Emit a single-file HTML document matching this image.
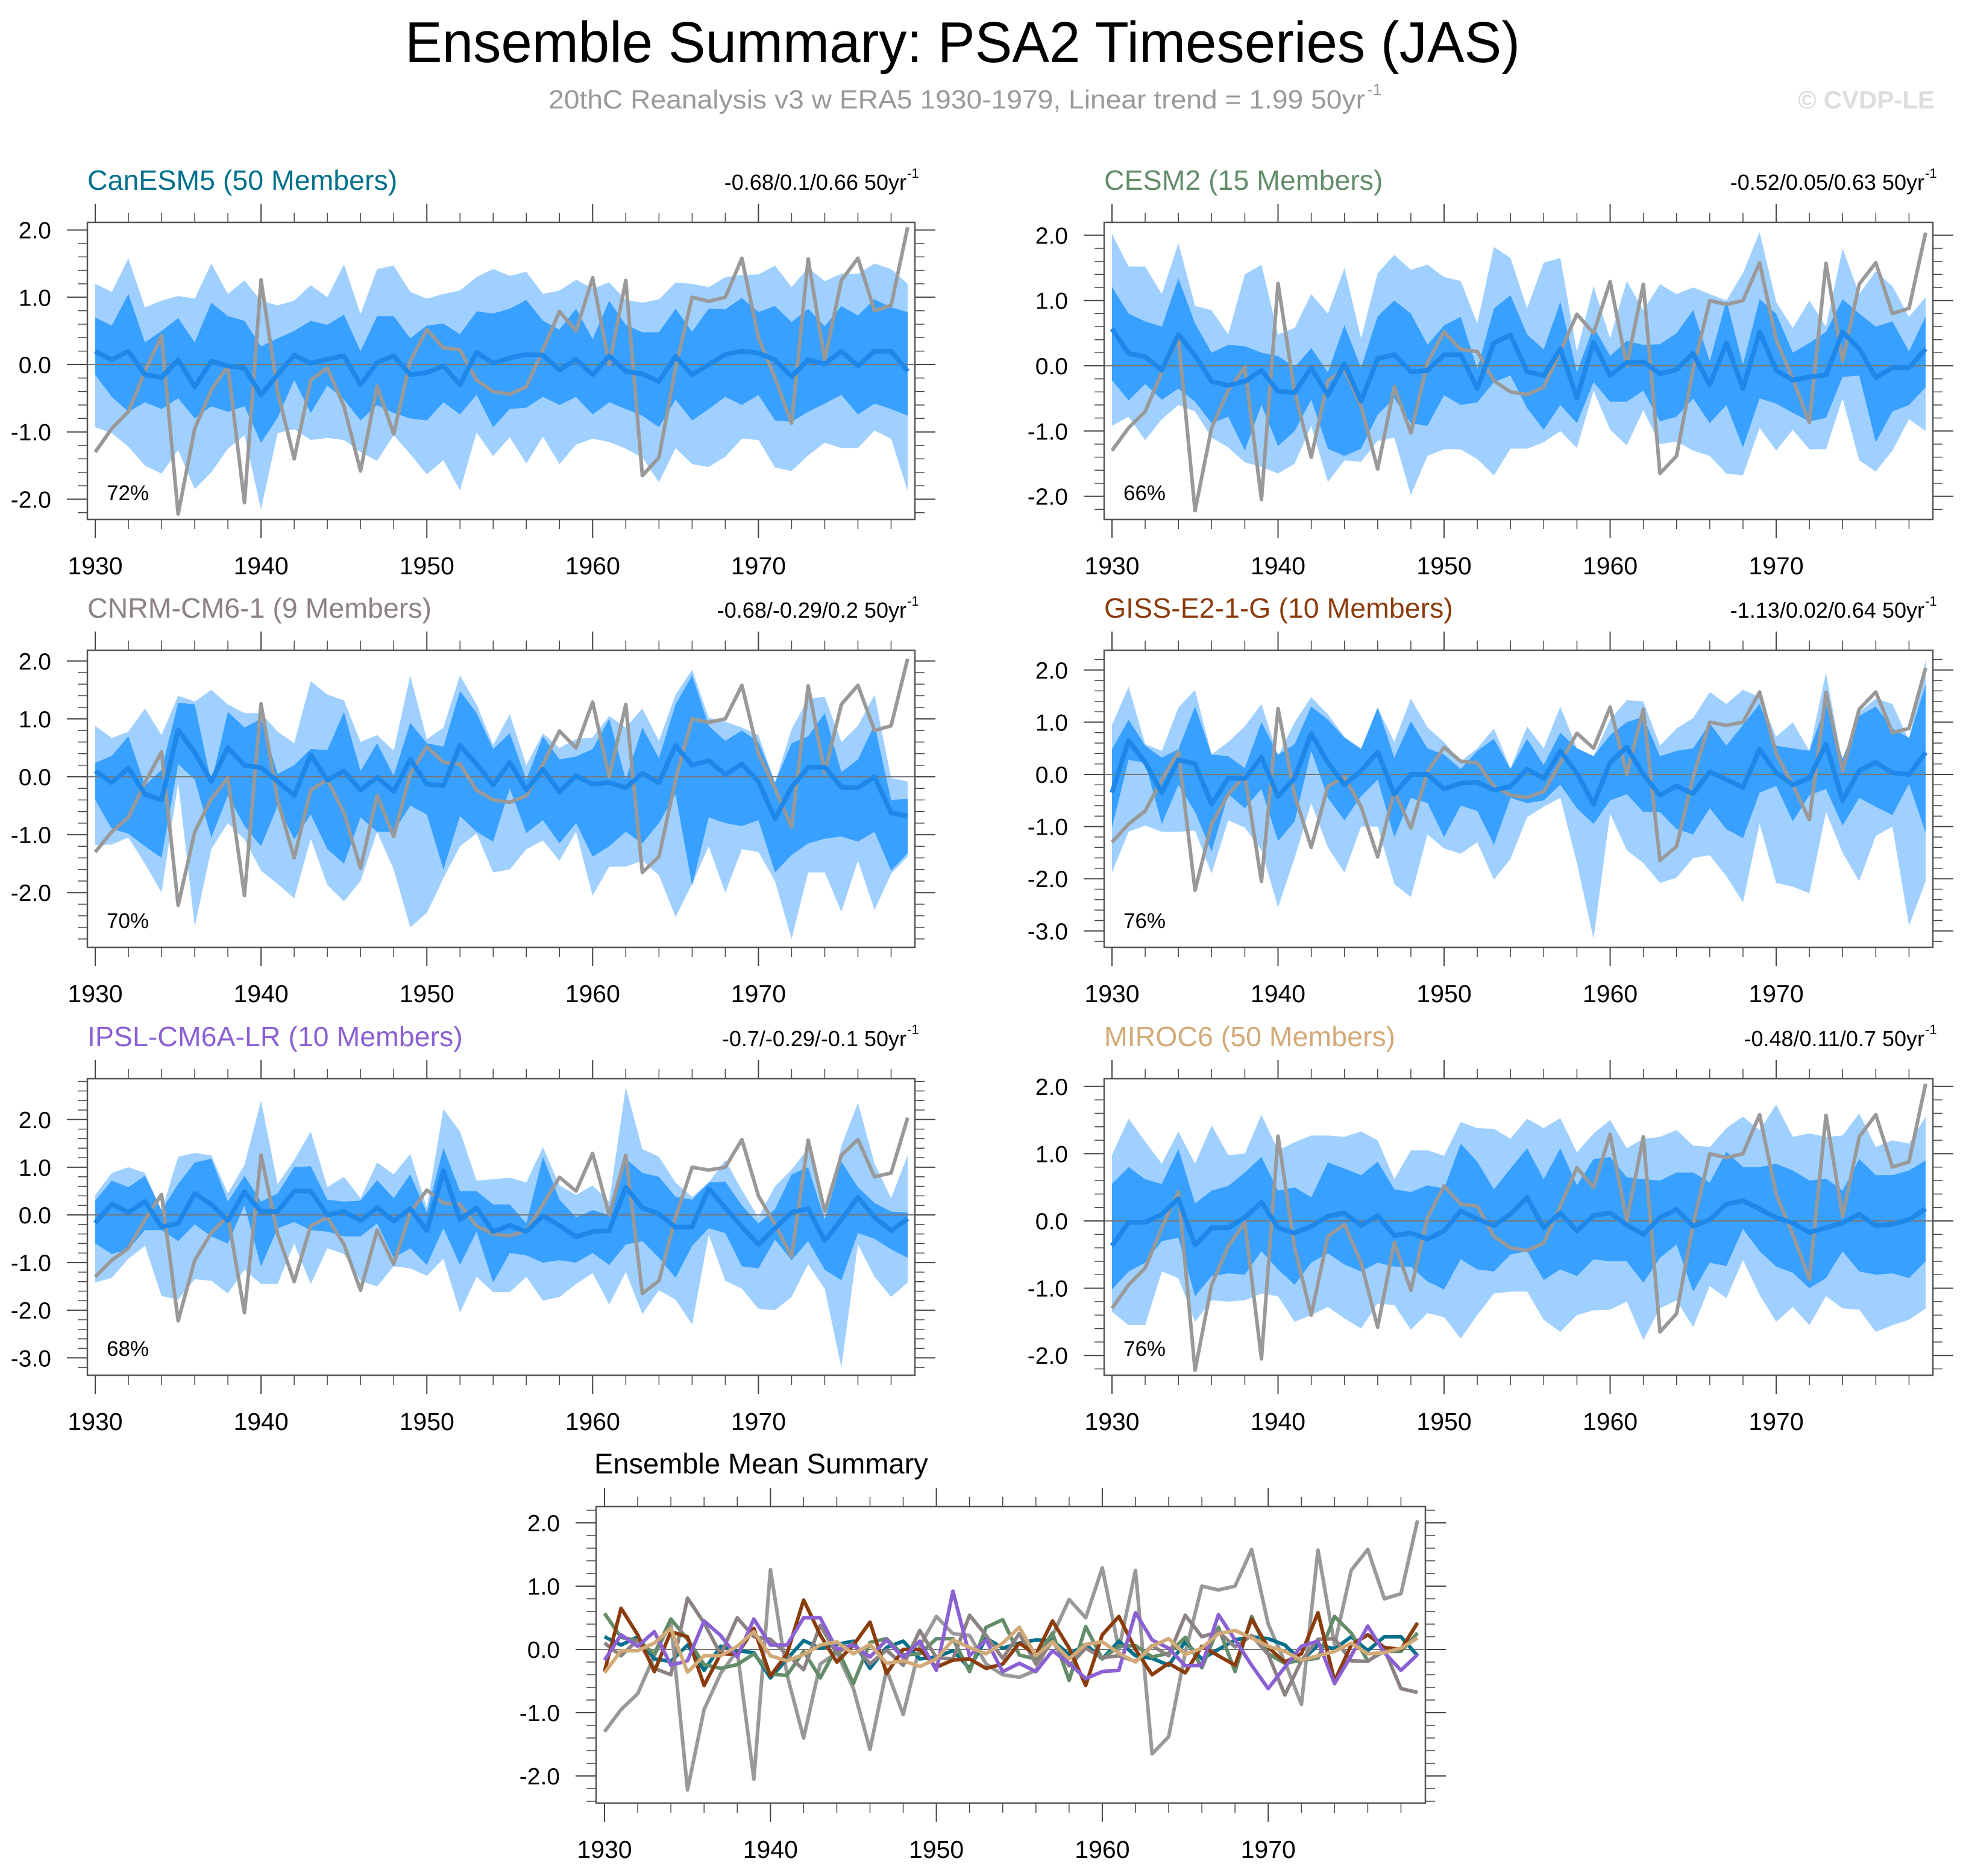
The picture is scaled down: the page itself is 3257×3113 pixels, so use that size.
<!DOCTYPE html>
<html><head><meta charset="utf-8"><style>
html,body{margin:0;padding:0;background:#fff;}
svg{display:block;font-family:"Liberation Sans",sans-serif;}
</style></head><body>
<svg id="fig" xmlns="http://www.w3.org/2000/svg" width="3257" height="3113" viewBox="0 0 3257 3113">
<rect width="3257" height="3113" fill="#fff"/>
<text x="672" y="103" font-size="96" textLength="1850" lengthAdjust="spacingAndGlyphs" fill="#000">Ensemble Summary: PSA2 Timeseries (JAS)</text>
<text x="910" y="180" font-size="44" fill="#999" textLength="1355" lengthAdjust="spacingAndGlyphs">20thC Reanalysis v3 w ERA5 1930-1979, Linear trend = 1.99 50yr</text>
<text x="2268" y="158" font-size="28" fill="#999">-1</text>
<text x="3210" y="180" font-size="42" font-weight="bold" fill="#ddd" text-anchor="end">© CVDP-LE</text>
<g id="plots"></g>
</svg>
<script>
const years = [];
for (let y = 1930; y <= 1979; y++) years.push(y);
const xTickLabels = ["1930","1940","1950","1960","1970"];
const obs = [-1.3,-0.95,-0.7,-0.1,0.43,-2.22,-0.95,-0.38,-0.02,-2.05,1.26,-0.4,-1.4,-0.23,-0.05,-0.62,-1.58,-0.32,-1.03,0.05,0.52,0.25,0.22,-0.23,-0.4,-0.44,-0.33,0.22,0.79,0.5,1.29,0.0,1.25,-1.65,-1.38,-0.05,1.0,0.94,1.0,1.58,0.4,-0.2,-0.87,1.57,0.07,1.25,1.58,0.8,0.88,2.04];

const canMean = [0.2,0.07,0.2,-0.15,-0.19,0.07,-0.33,0.05,-0.02,-0.05,-0.45,-0.15,0.14,0.02,0.08,0.13,-0.3,0.03,0.13,-0.15,-0.12,-0.02,-0.3,0.18,0.02,0.1,0.15,0.14,-0.08,0.08,-0.15,0.13,-0.1,-0.14,-0.25,0.12,-0.15,0.0,0.15,0.2,0.17,0.07,-0.18,0.07,0.01,0.2,-0.02,0.2,0.2,-0.1];
const canDarkHi = [0.7,0.58,1.05,0.33,0.5,0.69,0.33,0.92,0.72,0.65,0.27,0.39,0.5,0.65,0.59,0.74,0.2,0.72,0.72,0.39,0.58,0.61,0.45,0.79,0.76,0.83,0.96,0.65,0.52,0.83,0.38,0.95,0.59,0.48,0.48,0.83,0.49,0.83,0.82,0.99,0.78,0.87,0.63,0.83,0.57,0.87,0.73,0.97,0.85,0.78];
const canDarkLo = [-0.15,-0.48,-0.7,-0.56,-0.66,-0.5,-0.8,-0.62,-0.7,-0.62,-1.16,-0.79,-0.23,-0.72,-0.31,-0.52,-0.83,-0.6,-0.72,-0.8,-0.83,-0.56,-0.74,-0.45,-0.93,-0.66,-0.64,-0.48,-0.6,-0.48,-0.74,-0.56,-0.66,-0.76,-0.93,-0.52,-0.83,-0.66,-0.48,-0.6,-0.45,-0.83,-0.85,-0.7,-0.58,-0.45,-0.74,-0.58,-0.66,-0.76];
const canLightHi = [1.2,1.08,1.58,0.85,0.95,1.02,0.98,1.5,1.05,1.25,0.95,0.88,0.95,1.18,1.0,1.49,0.75,1.42,1.47,1.08,0.98,1.05,1.1,1.3,1.42,1.32,1.38,1.05,1.1,1.26,1.13,1.22,0.96,0.92,0.97,1.22,1.2,1.15,1.3,1.33,1.34,1.47,1.15,1.44,1.24,1.35,1.35,1.5,1.42,1.2];
const canLightLo = [-0.93,-1.02,-1.22,-1.5,-1.62,-1.27,-1.85,-1.6,-1.25,-1.05,-2.15,-1.02,-0.96,-1.12,-1.09,-1.12,-1.3,-1.43,-1.05,-1.33,-1.63,-1.42,-1.87,-1.01,-1.36,-1.08,-1.47,-1.07,-1.48,-1.19,-1.1,-1.15,-1.25,-1.38,-1.75,-1.24,-1.48,-1.52,-1.37,-1.1,-1.12,-1.53,-1.58,-1.35,-1.16,-1.24,-1.24,-0.98,-1.1,-1.88];

const cesmMean = [0.57,0.19,0.14,-0.07,0.48,0.16,-0.24,-0.3,-0.24,-0.07,-0.39,-0.41,-0.03,-0.45,0.03,-0.54,0.11,0.17,-0.09,-0.07,0.17,0.17,-0.35,0.35,0.47,-0.09,-0.15,0.26,-0.49,0.36,-0.15,0.05,0.06,-0.12,-0.06,0.19,-0.29,0.35,-0.35,0.52,-0.07,-0.22,-0.17,-0.14,0.52,0.26,-0.18,-0.03,-0.03,0.26];
const cesmDarkHi = [1.21,0.8,0.68,0.6,1.34,0.65,0.2,0.32,0.3,0.2,0.15,-0.02,0.27,-0.1,0.62,-0.03,0.76,1.0,0.8,0.32,0.62,0.75,-0.05,0.88,1.08,0.48,0.25,0.98,-0.1,0.6,0.15,0.38,0.32,0.33,0.5,0.85,0.07,1.0,0.02,1.02,0.8,0.2,0.35,0.52,1.02,0.8,0.6,0.68,0.22,0.76];
const cesmDarkLo = [-0.22,-0.53,-0.28,-0.52,-0.35,-0.55,-0.88,-0.78,-1.3,-0.6,-1.23,-1.0,-0.52,-1.27,-1.38,-1.27,-0.75,-0.5,-0.88,-0.92,-0.45,-0.6,-0.56,-0.25,-0.15,-0.65,-0.98,-0.6,-0.88,-0.25,-0.55,-0.55,-0.38,-0.85,-0.78,-0.5,-0.88,-0.6,-1.25,-0.5,-0.58,-0.72,-0.85,-0.8,-0.17,-0.15,-1.17,-0.7,-0.6,-0.33];
const cesmLightHi = [2.02,1.52,1.52,1.1,1.88,0.92,0.85,0.48,1.4,1.55,0.48,0.58,1.1,0.8,1.5,0.42,1.42,1.7,1.47,1.55,1.36,1.3,0.65,1.82,1.65,0.88,1.58,1.65,0.22,1.22,0.42,1.3,0.85,1.25,1.1,1.2,1.1,1.0,1.42,2.05,0.98,0.58,1.0,0.6,1.8,1.1,1.45,1.22,0.75,1.05];
const cesmLightLo = [-0.92,-0.78,-1.14,-0.82,-0.6,-0.7,-1.1,-1.25,-1.48,-1.55,-1.65,-1.5,-0.92,-1.78,-1.45,-1.47,-1.15,-1.1,-1.98,-1.38,-1.28,-1.28,-1.43,-1.68,-1.27,-1.27,-1.17,-1.0,-1.26,-0.38,-0.98,-1.22,-0.68,-1.2,-1.16,-1.3,-1.38,-1.65,-1.68,-0.95,-1.3,-0.98,-1.28,-1.28,-0.5,-1.45,-1.62,-1.3,-0.82,-1.0];

const cnrmMean = [0.1,-0.1,0.15,-0.3,-0.4,0.81,0.42,-0.08,0.5,0.2,0.16,-0.08,-0.32,0.38,-0.06,0.1,-0.23,-0.01,-0.25,0.3,-0.13,-0.15,0.54,0.22,-0.14,0.25,-0.23,0.13,-0.26,0.02,-0.13,-0.1,-0.19,0.06,-0.1,0.54,0.2,0.28,0.04,0.22,-0.08,-0.72,-0.18,0.16,0.17,-0.18,-0.19,0.0,-0.62,-0.68];
const cnrmDarkHi = [0.24,0.36,0.7,-0.15,0.12,1.28,1.25,-0.1,1.12,0.85,1.0,0.05,0.2,0.48,0.46,1.12,0.1,0.58,0.02,0.93,0.58,0.52,1.48,1.1,0.48,0.75,-0.05,0.7,0.3,0.35,0.48,1.0,-0.05,0.85,0.32,1.25,1.75,0.88,0.62,0.8,0.6,-0.1,0.58,0.7,1.1,0.08,0.3,0.9,-0.4,-0.38];
const cnrmDarkLo = [-0.4,-0.9,-0.98,-1.2,-1.4,0.22,-0.05,-1.05,-0.32,-0.85,-1.2,-0.5,-1.08,-0.65,-1.25,-1.5,-0.7,-0.95,-0.95,-0.5,-0.65,-1.6,-0.68,-0.95,-1.12,-0.2,-0.97,-0.75,-1.15,-0.8,-1.38,-1.2,-0.95,-1.15,-0.8,-0.3,-1.88,-0.7,-0.8,-0.85,-0.75,-1.65,-1.35,-1.15,-1.07,-1.03,-1.12,-0.95,-1.62,-1.32];
const cnrmLightHi = [0.88,0.67,0.78,1.18,0.72,1.4,1.3,1.5,1.25,1.1,1.1,0.78,0.58,1.65,1.42,1.32,0.6,0.72,0.45,1.75,0.65,0.85,1.75,1.25,0.55,1.08,0.2,0.75,0.5,0.65,0.68,1.05,0.85,1.18,0.62,1.42,1.85,1.02,0.95,0.85,0.72,-0.1,0.82,1.35,1.38,0.6,0.88,1.42,-0.02,-0.08];
const cnrmLightLo = [-1.18,-1.17,-1.05,-1.5,-2.0,-0.1,-2.58,-1.25,-0.8,-1.08,-1.62,-1.85,-2.1,-1.07,-1.87,-2.15,-1.8,-0.95,-1.6,-2.6,-2.35,-1.75,-1.2,-0.98,-1.65,-1.6,-1.25,-1.1,-1.45,-0.95,-2.05,-1.55,-1.55,-1.45,-1.7,-2.42,-1.85,-1.2,-2.0,-1.25,-1.3,-1.8,-2.8,-1.65,-1.65,-2.33,-1.45,-2.3,-1.68,-1.38];

const gissMean = [-0.35,0.65,0.23,-0.35,0.28,0.2,-0.57,-0.07,-0.08,0.33,-0.42,-0.07,0.78,0.23,-0.2,0.07,0.43,-0.38,0.0,0.0,-0.28,-0.17,-0.15,-0.3,-0.23,0.1,-0.08,0.45,0.02,-0.57,0.23,0.52,0.0,-0.4,-0.22,-0.37,0.05,-0.1,-0.25,0.48,0.03,-0.2,-0.07,0.58,-0.5,0.07,0.23,0.03,0.0,0.42];
const gissDarkHi = [0.48,1.05,0.55,0.32,0.48,1.3,0.38,0.35,0.12,1.0,0.38,0.58,1.3,1.05,0.7,0.48,1.28,0.32,1.02,0.5,0.38,0.1,0.45,0.68,0.1,0.68,0.18,0.8,0.5,0.35,0.75,1.0,1.1,0.35,0.45,0.5,0.98,0.55,0.95,1.35,0.55,0.5,0.45,1.35,0.3,1.12,1.3,0.88,0.7,1.72];
const gissDarkLo = [-1.02,0.28,0.22,-0.95,-0.2,-0.72,-1.48,-0.38,-0.65,-0.28,-1.28,-0.9,0.45,-0.45,-0.88,-0.42,-0.1,-1.2,-0.45,-0.55,-1.2,-0.6,-0.7,-1.35,-0.45,-0.55,-0.5,-0.2,-0.65,-0.95,-0.5,-0.38,-0.72,-0.72,-1.05,-1.15,-0.65,-1.05,-1.22,-0.35,-0.22,-0.9,-0.4,-0.28,-0.98,-0.45,-0.62,-0.78,-0.18,-1.12];
const gissLightHi = [0.95,1.68,0.58,0.45,1.28,1.62,0.38,0.62,0.92,1.35,0.35,1.0,1.48,1.15,0.72,0.5,1.28,0.62,1.45,0.9,0.62,0.25,0.5,0.88,0.12,0.92,0.5,1.3,0.5,0.35,1.05,1.42,1.4,0.55,0.88,1.08,1.58,1.35,1.62,1.48,0.72,1.0,0.45,1.95,0.2,1.2,1.45,1.35,0.65,2.2];
const gissLightLo = [-1.88,-1.1,-0.98,-1.1,-1.1,-1.08,-1.9,-0.88,-1.02,-1.45,-2.55,-1.6,-0.55,-1.4,-1.88,-1.0,-1.0,-2.1,-2.35,-1.15,-1.42,-1.52,-1.3,-2.02,-1.62,-0.82,-0.62,-0.45,-1.7,-3.15,-0.75,-1.45,-1.7,-2.08,-1.98,-1.6,-1.55,-1.95,-2.45,-0.95,-2.08,-2.15,-2.28,-0.72,-1.5,-2.05,-1.18,-1.0,-2.9,-2.05];

const ipslMean = [-0.17,0.23,0.05,0.28,-0.25,-0.18,0.45,0.22,-0.12,0.48,0.07,0.07,0.5,0.5,0.0,0.07,-0.12,0.15,-0.13,0.13,-0.33,0.92,-0.1,0.15,-0.35,-0.22,-0.35,-0.02,-0.22,-0.46,-0.35,-0.33,0.58,0.15,0.02,-0.26,-0.25,0.55,0.15,-0.25,-0.62,-0.28,0.05,0.13,-0.54,-0.1,0.37,-0.05,-0.33,-0.08];
const ipslDarkHi = [0.3,0.72,0.58,0.82,0.1,0.65,1.1,1.18,0.28,0.82,0.28,0.45,1.0,1.02,0.32,0.28,0.3,0.73,0.35,0.85,0.05,1.4,0.5,0.5,0.22,0.22,-0.18,1.22,0.32,-0.05,0.1,0.0,1.18,0.88,0.8,0.38,0.32,0.68,0.7,0.2,-0.18,0.12,0.85,1.0,-0.1,1.12,0.58,0.25,0.07,0.05];
const ipslDarkLo = [-0.6,-0.82,-0.72,-0.32,-0.32,-0.55,-0.2,-0.45,-0.6,0.2,-1.08,-0.28,-0.15,-0.32,-0.35,-0.45,-0.45,-0.18,-0.9,-0.7,-1.05,-0.28,-1.05,-0.35,-1.42,-0.8,-0.85,-1.0,-0.95,-1.0,-0.8,-1.05,-0.62,-0.55,-0.9,-1.32,-0.65,-0.28,-0.38,-1.08,-1.12,-0.52,-0.95,-0.55,-1.15,-1.37,-0.38,-0.5,-0.72,-0.9];
const ipslLightHi = [0.42,0.88,1.0,0.88,0.08,1.22,1.3,1.25,0.45,1.05,2.4,0.65,1.15,1.75,0.58,0.8,0.35,1.1,0.85,1.28,0.15,2.22,1.75,0.72,0.75,0.78,0.68,1.42,0.62,0.42,0.62,0.28,2.68,1.38,1.22,0.68,0.38,0.68,1.15,0.52,-0.05,0.6,0.95,1.4,-0.05,1.45,2.35,1.08,0.35,1.25];
const ipslLightLo = [-1.42,-1.32,-0.92,-0.65,-1.7,-1.78,-1.35,-1.38,-1.65,-1.15,-1.45,-1.45,-0.6,-1.45,-0.7,-0.82,-1.38,-1.5,-1.08,-1.12,-1.28,-0.92,-2.05,-1.3,-1.62,-1.62,-1.3,-1.8,-1.72,-1.45,-1.22,-1.88,-1.2,-2.08,-1.58,-1.78,-2.3,-0.42,-1.38,-1.55,-1.97,-2.0,-1.72,-1.03,-1.55,-3.2,-0.62,-1.3,-1.72,-1.42];

const mirocMean = [-0.37,-0.02,-0.02,0.1,0.33,-0.36,-0.1,-0.1,0.05,0.28,-0.1,-0.18,-0.08,0.07,0.12,-0.07,0.08,-0.22,-0.18,-0.27,-0.15,0.15,0.03,-0.07,0.1,0.35,-0.1,0.12,-0.15,0.08,0.12,-0.06,-0.2,0.05,0.17,-0.08,0.02,0.25,0.3,0.18,0.05,-0.03,-0.17,-0.1,-0.03,0.1,-0.07,-0.05,0.02,0.18];
const mirocDarkHi = [0.55,0.8,0.62,0.55,1.07,0.26,0.45,0.52,0.72,0.95,0.45,0.5,0.35,0.87,0.78,0.68,0.88,0.47,0.43,0.53,0.48,1.15,0.88,0.47,0.78,1.08,0.62,1.08,0.53,0.92,0.95,0.65,0.62,0.6,0.72,0.72,0.57,1.03,0.8,0.8,0.85,0.75,0.6,0.63,0.45,0.92,0.68,0.68,0.75,0.9];
const mirocDarkLo = [-1.02,-0.75,-0.62,-0.3,-0.25,-1.12,-0.82,-0.78,-0.8,-0.45,-0.72,-0.95,-0.62,-0.48,-0.65,-0.75,-0.62,-0.68,-0.68,-0.9,-1.02,-0.57,-0.72,-0.75,-0.5,-0.45,-0.88,-0.72,-0.82,-0.57,-0.6,-0.6,-0.92,-0.55,-0.35,-1.05,-0.62,-0.67,-0.12,-0.45,-0.68,-0.77,-1.0,-0.85,-0.45,-0.75,-0.8,-0.78,-0.85,-0.6];
const mirocLightHi = [0.98,1.52,1.18,0.85,1.33,0.85,1.42,0.98,1.0,1.58,1.05,1.17,1.27,1.27,1.25,1.33,1.2,0.62,1.05,1.05,0.97,1.47,1.38,1.37,1.22,1.52,1.38,1.53,1.02,1.3,1.5,1.08,1.22,1.25,1.35,1.12,1.1,1.38,1.55,1.35,1.73,1.25,1.3,1.25,1.27,1.6,1.1,1.2,1.15,1.55];
const mirocLightLo = [-1.35,-1.55,-1.55,-0.75,-0.85,-1.5,-1.18,-1.2,-1.18,-1.08,-1.12,-1.5,-1.4,-1.28,-1.45,-1.6,-1.23,-1.25,-1.62,-1.37,-1.43,-1.75,-1.4,-1.08,-1.05,-1.05,-1.47,-1.65,-1.4,-1.33,-1.32,-1.2,-1.77,-1.3,-1.18,-1.58,-0.97,-1.15,-0.58,-1.1,-1.5,-1.28,-1.55,-1.12,-1.3,-1.32,-1.65,-1.55,-1.47,-1.3];

const modelNames = ["CanESM5 (50 Members)","CESM2 (15 Members)","CNRM-CM6-1 (9 Members)","GISS-E2-1-G (10 Members)","IPSL-CM6A-LR (10 Members)","MIROC6 (50 Members)"];
const trendLabels = ["-0.68/0.1/0.66 50yr","-0.52/0.05/0.63 50yr","-0.68/-0.29/0.2 50yr","-1.13/0.02/0.64 50yr","-0.7/-0.29/-0.1 50yr","-0.48/0.11/0.7 50yr"];
const pctLabels = ["72%","66%","70%","76%","68%","76%"];
const yTickMin = [-2,-2,-2,-3,-3,-2];
const yTickMax = [2,2,2,2,2,2];

const NS = "http://www.w3.org/2000/svg";
const root = document.getElementById('plots');
function mk(tag, attrs, parent) {
  const e = document.createElementNS(NS, tag);
  for (const k in attrs) e.setAttribute(k, attrs[k]);
  (parent || root).appendChild(e);
  return e;
}
const modelColors = ["#00708c","#638c69","#8c8282","#8b3c0c","#8a60d2","#d2aa78"];
const geo = [
  {fx0:145,fx1:1518,fy0:369,fy1:862,x0:158,x1:1506,zero:605,unit:111.7},
  {fx0:1832,fx1:3207,fy0:369,fy1:862,x0:1845,x1:3195,zero:607,unit:108.3},
  {fx0:145,fx1:1518,fy0:1079,fy1:1572,x0:158,x1:1506,zero:1289,unit:96.1},
  {fx0:1832,fx1:3207,fy0:1079,fy1:1572,x0:1845,x1:3195,zero:1285,unit:86.6},
  {fx0:145,fx1:1518,fy0:1790,fy1:2282,x0:158,x1:1506,zero:2016,unit:79.1},
  {fx0:1832,fx1:3207,fy0:1790,fy1:2282,x0:1845,x1:3195,zero:2026,unit:111.6}
];
const bands = [
  [canMean,canDarkHi,canDarkLo,canLightHi,canLightLo],
  [cesmMean,cesmDarkHi,cesmDarkLo,cesmLightHi,cesmLightLo],
  [cnrmMean,cnrmDarkHi,cnrmDarkLo,cnrmLightHi,cnrmLightLo],
  [gissMean,gissDarkHi,gissDarkLo,gissLightHi,gissLightLo],
  [ipslMean,ipslDarkHi,ipslDarkLo,ipslLightHi,ipslLightLo],
  [mirocMean,mirocDarkHi,mirocDarkLo,mirocLightHi,mirocLightLo]
];

function axes(g, parent, ymin, ymax) {
  const xs = yr => g.x0 + (yr - 1930) * (g.x1 - g.x0) / 49;
  const ys = v => g.zero - v * g.unit;
  const fr = mk('rect',{x:g.fx0,y:g.fy0,width:g.fx1-g.fx0,height:g.fy1-g.fy0,fill:'#fff',stroke:'none'},parent);
  
  
  for (let yr = 1930; yr <= 1979; yr += 2) {
    const maj = (yr % 10 === 0);
    const len = maj ? 31 : 16;
    const x = xs(yr);
    mk('line',{x1:x,x2:x,y1:g.fy0,y2:g.fy0-len,stroke:'#444','stroke-width':maj?2:1.5},parent);
    mk('line',{x1:x,x2:x,y1:g.fy1,y2:g.fy1+len,stroke:'#444','stroke-width':maj?2:1.5},parent);
  }
  xTickLabels.forEach(lab => {
    const t = mk('text',{x:xs(+lab),y:g.fy1+91,'font-size':41,'text-anchor':'middle',fill:'#000'},parent);
    t.textContent = lab;
    
    
  });
  for (let k = Math.ceil(-(g.fy1 - g.zero) / g.unit * 5); k <= Math.floor((g.zero - g.fy0) / g.unit * 5); k++) {
    const v = k / 5;
    const y = ys(v);
    const maj = (k % 5 === 0);
    const len = maj ? 34 : 16;
    mk('line',{x1:g.fx0,x2:g.fx0-len,y1:y,y2:y,stroke:'#444','stroke-width':maj?2:1.5},parent);
    mk('line',{x1:g.fx1,x2:g.fx1+len,y1:y,y2:y,stroke:'#444','stroke-width':maj?2:1.5},parent);
  }
  for (let v = ymin; v <= ymax; v++) {
    const t = mk('text',{x:g.fx0-60,y:ys(v)+14,'font-size':39,'text-anchor':'end',fill:'#000'},parent);
    t.textContent = v.toFixed(1);
    
    
  }
  return {xs, ys};
}
function linePath(arr, xs, ys) {
  return arr.map((v,i)=>(i?'L':'M')+xs(years[i]).toFixed(1)+' '+ys(v).toFixed(1)).join(' ');
}
function bandPath(hi, lo, xs, ys) {
  let d = hi.map((v,i)=>(i?'L':'M')+xs(years[i]).toFixed(1)+' '+ys(v).toFixed(1)).join(' ');
  for (let i = lo.length-1; i >= 0; i--) d += ' L'+xs(years[i]).toFixed(1)+' '+ys(lo[i]).toFixed(1);
  return d + ' Z';
}

geo.forEach((g, p) => {
  const grp = mk('g',{});
  
  
  const {xs, ys} = axes(g, grp, yTickMin[p], yTickMax[p]);
  const [mean, dh, dl, lh, ll] = bands[p];
  const b1 = mk('path',{d:bandPath(lh,ll,xs,ys),fill:'#a0d0ff'},grp);
  
  
  const b2 = mk('path',{d:bandPath(dh,dl,xs,ys),fill:'#38a0ff'},grp);
  
  
  mk('line',{x1:g.fx0,x2:g.fx1,y1:ys(0),y2:ys(0),stroke:'#777','stroke-width':2},grp);
  const ob = mk('path',{d:linePath(obs,xs,ys),fill:'none',stroke:'#999','stroke-width':6,'stroke-linejoin':'round'},grp);
  
  
  const ml = mk('path',{d:linePath(mean,xs,ys),fill:'none',stroke:'#1e88ea','stroke-width':8,'stroke-linejoin':'round'},grp);
  
  
  mk('rect',{x:g.fx0,y:g.fy0,width:g.fx1-g.fx0,height:g.fy1-g.fy0,fill:'none',stroke:'#555','stroke-width':2.5},grp);
  const t = mk('text',{x:g.fx0,y:g.fy0-54,'font-size':46.5,fill:modelColors[p]},grp);
  t.textContent = modelNames[p];
  
  
  const tr = mk('text',{x:g.fx1-14,y:g.fy0-54,'font-size':36,'text-anchor':'end',fill:'#000'},grp);
  tr.textContent = trendLabels[p];
  
  
  const sp = mk('text',{x:g.fx1-13,y:g.fy0-74,'font-size':22,fill:'#000'},grp);
  sp.textContent = '-1';
  
  
  const pc = mk('text',{x:g.fx0+32,y:g.fy1-32,'font-size':35,fill:'#000'},grp);
  pc.textContent = pctLabels[p];
  
  
});

const gb = {fx0:989,fx1:2365,fy0:2500,fy1:2992,x0:1003,x1:2352,zero:2737,unit:105};
const bg = mk('g',{});


const ax = axes(gb, bg, -2, 2);
mk('line',{x1:gb.fx0,x2:gb.fx1,y1:ax.ys(0),y2:ax.ys(0),stroke:'#777','stroke-width':2},bg);
const bo = mk('path',{d:linePath(obs,ax.xs,ax.ys),fill:'none',stroke:'#999','stroke-width':6,'stroke-linejoin':'round'},bg);


bands.forEach((b, p) => {
  const l = mk('path',{d:linePath(b[0],ax.xs,ax.ys),fill:'none',stroke:modelColors[p],'stroke-width':6,'stroke-linejoin':'round'},bg);
  
  
});
mk('rect',{x:gb.fx0,y:gb.fy0,width:gb.fx1-gb.fx0,height:gb.fy1-gb.fy0,fill:'none',stroke:'#555','stroke-width':2.5},bg);
const bt = mk('text',{x:986,y:2445,'font-size':47,fill:'#000'},bg);
bt.textContent = 'Ensemble Mean Summary';


</script>
</body></html>
